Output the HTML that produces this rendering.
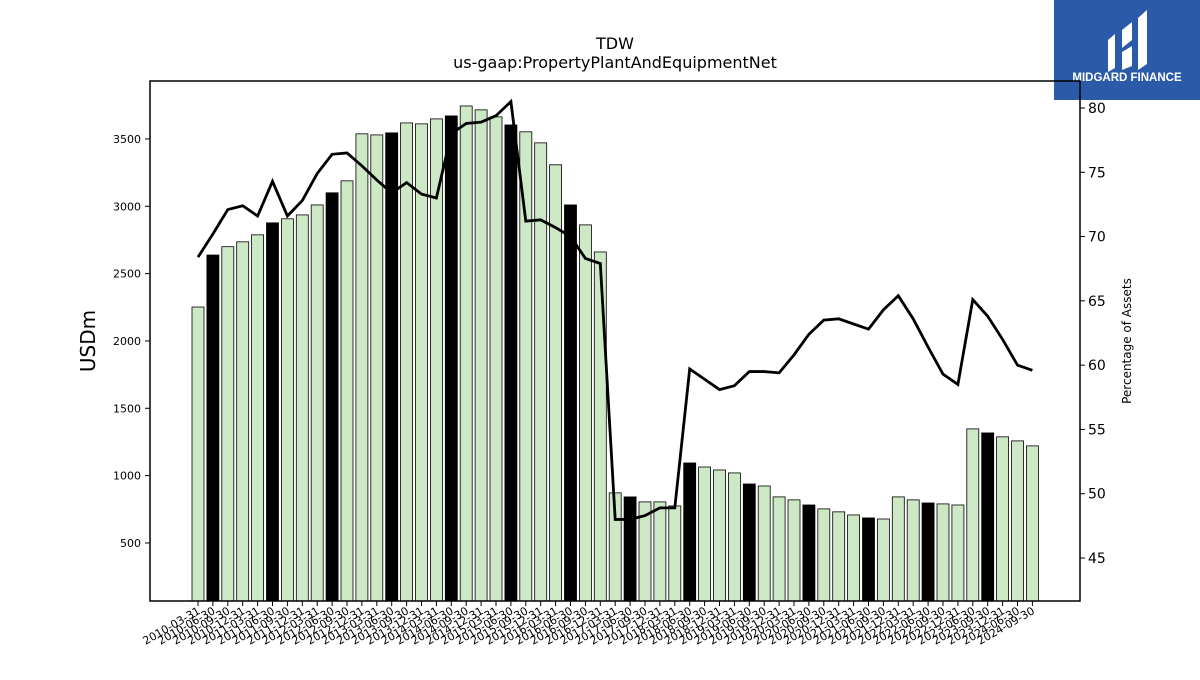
<!DOCTYPE html>
<html><head><meta charset="utf-8"><style>
body{margin:0;background:#fff;font-family:"Liberation Sans","DejaVu Sans",sans-serif}
</style></head><body>
<svg width="1200" height="675" xmlns="http://www.w3.org/2000/svg" id="svg" font-family="DejaVu Sans, Liberation Sans, sans-serif">
<rect width="1200" height="675" fill="#fff"/>
<text x="615" y="49" font-size="16" text-anchor="middle">TDW</text>
<text x="615" y="68" font-size="16" text-anchor="middle">us-gaap:PropertyPlantAndEquipmentNet</text>
<g>
<rect x="1054" y="0" width="146" height="100" fill="#2b5aa8"/>
<path d="M1108 40 L1115 34 L1115 68 L1108 72 Z M1122 30 L1132 22 L1132 40 L1122 48 Z M1122 52 L1132 46 L1132 66 L1122 70 Z M1138 18 L1147 10 L1147 64 L1138 70 Z" fill="#fff"/>
<text x="1127" y="81" font-size="11.5" font-weight="bold" fill="#fff" text-anchor="middle" font-family="Liberation Sans, sans-serif">MIDGARD FINANCE</text>
</g>
<g id="plot"></g>
</svg>
<script>
const dates=["2010-03-31","2010-06-30","2010-09-30","2010-12-31","2011-03-31","2011-06-30","2011-09-30","2011-12-31","2012-03-31","2012-06-30","2012-09-30","2012-12-31","2013-03-31","2013-06-30","2013-09-30","2013-12-31","2014-03-31","2014-06-30","2014-09-30","2014-12-31","2015-03-31","2015-06-30","2015-09-30","2015-12-31","2016-03-31","2016-06-30","2016-09-30","2016-12-31","2017-03-31","2017-06-30","2017-09-30","2017-12-31","2018-03-31","2018-06-30","2018-09-30","2018-12-31","2019-03-31","2019-06-30","2019-09-30","2019-12-31","2020-03-31","2020-06-30","2020-09-30","2020-12-31","2021-03-31","2021-06-30","2021-09-30","2021-12-31","2022-03-31","2022-06-30","2022-09-30","2022-12-31","2023-06-30","2023-09-30","2023-12-31","2024-06-30","2024-09-30"];
const ppe=[2252,2638,2700,2736,2788,2877,2907,2936,3010,3100,3189,3538,3530,3545,3619,3612,3649,3671,3745,3716,3664,3604,3553,3471,3308,3010,2862,2661,872,842,805,805,775,1094,1064,1042,1020,938,923,842,820,782,753,731,708,686,678,842,820,797,790,782,1347,1317,1288,1258,1221];
const pct=[68.4,70.2,72.1,72.4,71.6,74.3,71.6,72.8,74.9,76.4,76.5,75.5,74.4,73.4,74.2,73.3,73.0,78.0,78.8,78.9,79.4,80.5,71.2,71.3,70.7,70.0,68.3,67.9,48.0,48.0,48.3,48.9,48.9,59.7,58.9,58.1,58.4,59.5,59.5,59.4,60.8,62.4,63.5,63.6,63.2,62.8,64.3,65.4,63.6,61.4,59.3,58.5,65.1,63.8,62.0,60.0,59.6];
const leftTicks=[500,1000,1500,2000,2500,3000,3500];
const rightTicks=[45,50,55,60,65,70,75,80];
const L=150,R=1080,T=81,B=601;
const yL=v=>610.3-v*0.13467;
const yR=v=>108+(80-v)*12.857;
const x=i=>198+i*14.9;
const ns="http://www.w3.org/2000/svg",g=document.getElementById('plot');
function mk(t,a,p){const e=document.createElementNS(ns,t);for(const k in a)e.setAttribute(k,a[k]);(p||g).appendChild(e);return e;}
ppe.forEach((v,i)=>{const r=mk('rect',{x:x(i)-6,y:yL(v),width:12,height:B-yL(v),fill:i%4==1?'#000':'#cce8c4',stroke:'#000','stroke-width':0.8});

});
const pl=mk('polyline',{points:pct.map((v,i)=>x(i)+','+yR(v)).join(' '),fill:'none',stroke:'#000','stroke-width':2.8});


const fr=mk('rect',{x:L,y:T,width:R-L,height:B-T,fill:'none',stroke:'#000','stroke-width':1.5});


leftTicks.forEach(v=>{mk('line',{x1:L-5,x2:L,y1:yL(v),y2:yL(v),stroke:'#000'});
const t=mk('text',{x:L-9,y:yL(v)+4,'font-size':11,'text-anchor':'end'});t.textContent=v;

});
rightTicks.forEach(v=>{mk('line',{x1:R,x2:R+5,y1:yR(v),y2:yR(v),stroke:'#000'});
const t=mk('text',{x:R+8,y:yR(v)+5,'font-size':14});t.textContent=v;

});
dates.forEach((d,i)=>{mk('line',{x1:x(i),x2:x(i),y1:B,y2:B+5,stroke:'#000'});
const t=mk('text',{x:x(i)+3,y:B+12,'font-size':11,'text-anchor':'end',transform:`rotate(-30 ${x(i)+3} ${B+12})`});t.textContent=d;

});
const yt=mk('text',{x:95,y:341,'font-size':20,'text-anchor':'middle',transform:'rotate(-90 95 341)'});yt.textContent='USDm';


const yt2=mk('text',{x:1131,y:341,'font-size':12,'text-anchor':'middle',transform:'rotate(-90 1131 341)'});yt2.textContent='Percentage of Assets';


</script>
</body></html>
